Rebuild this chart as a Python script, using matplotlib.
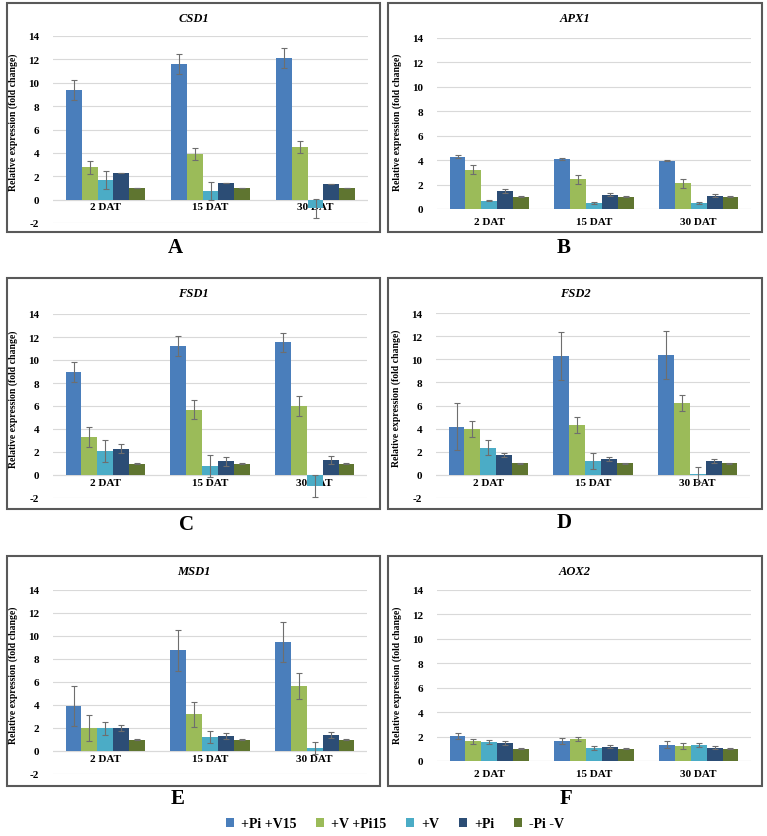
import matplotlib
matplotlib.use("Agg")
import matplotlib.pyplot as plt
import numpy as np
from matplotlib.patches import Rectangle

plt.rcParams['axes.unicode_minus'] = False

categories = ['2 DAT', '15 DAT', '30 DAT']
series = ['+Pi +V15', '+V +Pi15', '+V', '+Pi', '-Pi -V']
colors = ['#4A7EBB', '#9BBB59', '#4BACC6', '#2C4D75', '#5F7530']

# values: one row per series, one column per category
csd1_mean = [[9.4, 11.62, 12.1], [2.75, 3.9, 4.5], [1.7, 0.7, -0.75], [2.3, 1.38, 1.33], [1.0, 1.0, 1.0]]
csd1_err = [[0.85, 0.88, 0.85], [0.55, 0.48, 0.52], [0.75, 0.77, 0.83], [0.0, 0.0, 0.0], [0.0, 0.0, 0.0]]

apx1_mean = [[4.27, 4.1, 3.97], [3.23, 2.43, 2.1], [0.68, 0.49, 0.49], [1.48, 1.18, 1.07], [1.0, 1.0, 1.0]]
apx1_err = [[0.12, 0.1, 0.08], [0.38, 0.38, 0.35], [0.05, 0.05, 0.05], [0.13, 0.1, 0.12], [0.03, 0.03, 0.03]]

fsd1_mean = [[8.97, 11.22, 11.55], [3.3, 5.68, 5.98], [2.09, 0.78, -0.97], [2.28, 1.19, 1.33], [1.0, 1.0, 1.0]]
fsd1_err = [[0.85, 0.84, 0.84], [0.87, 0.83, 0.85], [0.93, 0.95, 0.95], [0.38, 0.4, 0.35], [0.02, 0.02, 0.02]]

fsd2_mean = [[4.18, 10.28, 10.37], [3.98, 4.3, 6.2], [2.35, 1.18, 0.07], [1.7, 1.37, 1.18], [1.0, 1.0, 1.0]]
fsd2_err = [[2.05, 2.08, 2.08], [0.7, 0.72, 0.68], [0.65, 0.7, 0.65], [0.15, 0.17, 0.18], [0.02, 0.02, 0.02]]

msd1_mean = [[3.95, 8.75, 9.48], [1.97, 3.18, 5.65], [1.97, 1.2, 0.23], [1.97, 1.32, 1.37], [1.0, 1.0, 1.0]]
msd1_err = [[1.74, 1.76, 1.7], [1.12, 1.12, 1.1], [0.55, 0.52, 0.52], [0.25, 0.25, 0.25], [0.02, 0.02, 0.02]]

aox2_mean = [[2.05, 1.62, 1.33], [1.6, 1.78, 1.22], [1.55, 1.07, 1.3], [1.48, 1.18, 1.1], [1.0, 1.0, 1.0]]
aox2_err = [[0.28, 0.25, 0.28], [0.22, 0.17, 0.22], [0.15, 0.18, 0.17], [0.18, 0.1, 0.14], [0.03, 0.03, 0.03]]

W, H = 767, 837
fig = plt.figure(figsize=(W / 100, H / 100), dpi=100)
SERIF = ['Liberation Serif', 'DejaVu Serif']

panels = [
    ('CSD1', 'A', csd1_mean, csd1_err, (53, 368, 37, 224), -2, (7, 380, 4, 233), (175, 248), 0.545),
    ('APX1', 'B', apx1_mean, apx1_err, (437, 751, 39, 210), 0, (388, 762, 4, 233), (564, 248), 0.515),
    ('FSD1', 'C', fsd1_mean, fsd1_err, (53, 367, 315, 499), -2, (7, 380, 279, 510), (187, 525), 0.543),
    ('FSD2', 'D', fsd2_mean, fsd2_err, (436, 750, 314, 499), -2, (388, 762, 279, 510), (564, 523), 0.543),
    ('MSD1', 'E', msd1_mean, msd1_err, (53, 367, 591, 775), -2, (7, 380, 557, 787), (178, 799), 0.543),
    ('AOX2', 'F', aox2_mean, aox2_err, (437, 751, 591, 762), 0, (388, 762, 557, 787), (566, 799), 0.509),
]

x = np.arange(len(categories))
bw = 0.152

for gene, letter, mean, err, (ax0, ax1, yt, yb), ymin, (fx0, fx1, fy0, fy1), (lx, ly), ylf in panels:
    ax = fig.add_axes([ax0 / W, 1 - yb / H, (ax1 - ax0) / W, (yb - yt) / H])
    ax.set_xlim(-0.5, 2.5)
    ax.set_ylim(ymin, 14)
    ax.set_yticks(np.arange(ymin, 15, 2))
    ax.grid(axis='y', color='#D9D9D9', lw=0.8)
    ax.set_axisbelow(True)
    for s in ['top', 'right', 'left', 'bottom']:
        ax.spines[s].set_visible(False)
    for i in range(len(series)):
        pos = x + (i - 2) * bw
        ax.bar(pos, mean[i], width=bw, color=colors[i], label=series[i], zorder=2)
        ax.errorbar(pos, mean[i], yerr=err[i], fmt='none', ecolor='#6E6E6E',
                    elinewidth=0.8, capsize=2, capthick=0.8, zorder=3)
    ax.axhline(0, color='#D9D9D9', lw=0.8, zorder=1)
    ax.spines['bottom'].set_position(('data', 0))
    ax.set_xticks(x)
    ax.set_xticklabels(categories, fontsize=8, fontweight='bold', family=SERIF)
    ax.tick_params(axis='x', length=0, pad=(2 if ymin < 0 else 6))
    ax.tick_params(axis='y', length=0, pad=10)
    for t in ax.get_yticklabels():
        t.set_fontsize(8)
        t.set_fontweight('bold')
        t.set_family(SERIF)
    ax.set_ylabel('Relative expression (fold change)', fontsize=7, fontweight='bold', family=SERIF)
    ax.yaxis.set_label_coords(-0.111, ylf)
    fig.text((fx0 + fx1) / 2 / W, 1 - (fy0 + 15) / H, gene, ha='center', va='center',
             fontsize=9, fontweight='bold', fontstyle='italic', family=SERIF)
    fig.patches.append(Rectangle((fx0 / W, 1 - fy1 / H), (fx1 - fx0) / W, (fy1 - fy0) / H,
                                 transform=fig.transFigure, fill=False, edgecolor='#595959', lw=1.5))
    fig.text(lx / W, 1 - ly / H, letter, ha='center', va='center', fontsize=15,
             fontweight='bold', family=SERIF)

handles, labels = ax.get_legend_handles_labels()
fig.legend(handles, labels, loc='center', bbox_to_anchor=(395 / W, 1 - 825 / H), ncol=5, frameon=False,
           prop={'family': SERIF, 'weight': 'bold', 'size': 10}, handlelength=0.6, handleheight=0.6,
           handletextpad=0.5, columnspacing=1.4, borderaxespad=0)

fig.savefig('out.png', dpi=100, facecolor='white')
